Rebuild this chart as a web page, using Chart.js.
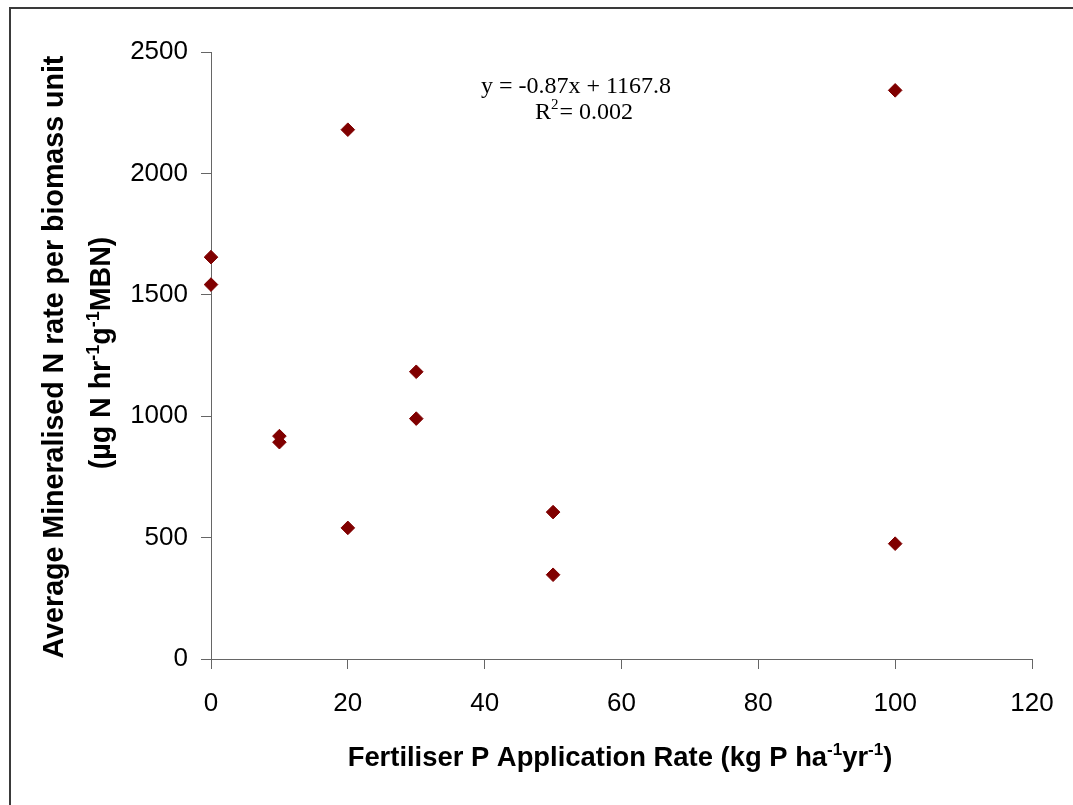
<!DOCTYPE html>
<html>
<head>
<meta charset="utf-8">
<script src="https://cdn.jsdelivr.net/npm/chart.js@4.4.1/dist/chart.umd.min.js"></script>
<style>
  html, body { margin: 0; padding: 0; background: #ffffff; }
  #wrap { width: 1073px; height: 805px; position: relative; }
  canvas { display: block; }
</style>
</head>
<body>
<div id="wrap"><canvas id="c" width="1073" height="805"></canvas></div>
<script>
// ---- data ----
const fertiliserP = [0, 0, 10, 10, 20, 20, 30, 30, 50, 50, 100, 100];
const mineralisedN = [1655, 1542, 918, 893, 2180, 540, 1183, 990, 605, 347, 2342, 475];
const xTicks = [0, 20, 40, 60, 80, 100, 120];
const yTicks = [0, 500, 1000, 1500, 2000, 2500];
const trendEquation = "y = -0.87x + 1167.8";
const rSquaredLabel = ["R", "2", "= 0.002"];
const xTitleParts = [["Fertiliser P Application Rate (kg P ha", false], ["-1", true], ["yr", false], ["-1", true], [")", false]];
const yTitleLine1 = [["Average Mineralised N rate per biomass unit", false]];
const yTitleLine2 = [["(\u00b5g N hr", false], ["-1", true], ["g", false], ["-1", true], ["MBN)", false]];

const points = fertiliserP.map((x, i) => ({ x: x, y: mineralisedN[i] }));

const SANS = "'Liberation Sans', Arial, sans-serif";
const SERIF = "'Liberation Serif', 'Times New Roman', serif";
const AXIS_COLOR = '#666666';

function richWidth(ctx, parts, size, supSize, weight, family) {
  let w = 0;
  for (const [t, sup] of parts) {
    ctx.font = weight + ' ' + (sup ? supSize : size) + 'px ' + family;
    w += ctx.measureText(t).width;
  }
  return w;
}
function drawRich(ctx, parts, cx, baseline, size, supSize, weight, family, raise) {
  const w = richWidth(ctx, parts, size, supSize, weight, family);
  let x = cx - w / 2;
  ctx.textAlign = 'left';
  ctx.textBaseline = 'alphabetic';
  for (const [t, sup] of parts) {
    ctx.font = weight + ' ' + (sup ? supSize : size) + 'px ' + family;
    ctx.fillText(t, x, sup ? baseline - raise : baseline);
    x += ctx.measureText(t).width;
  }
}

const decorations = {
  id: 'decorations',
  beforeDraw(chart) {
    const ctx = chart.ctx;
    ctx.save();
    ctx.fillStyle = '#ffffff';
    ctx.fillRect(0, 0, chart.width, chart.height);
    ctx.restore();
  },
  afterDraw(chart) {
    const ctx = chart.ctx;
    ctx.save();
    // outer frame (left and top edges visible)
    ctx.strokeStyle = '#3a3a3a';
    ctx.lineWidth = 2;
    ctx.beginPath();
    ctx.moveTo(10, chart.height + 2);
    ctx.lineTo(10, 8);
    ctx.lineTo(chart.width + 2, 8);
    ctx.stroke();

    ctx.fillStyle = '#000000';
    // x axis title
    drawRich(ctx, xTitleParts, 620, 766, 27.4, 17, 'bold', SANS, 11);

    // y axis title (rotated)
    ctx.save();
    ctx.translate(63, 357);
    ctx.rotate(-Math.PI / 2);
    drawRich(ctx, yTitleLine1, 0, 0, 28.6, 18, 'bold', SANS, 11);
    ctx.restore();
    ctx.save();
    ctx.translate(110, 353);
    ctx.rotate(-Math.PI / 2);
    drawRich(ctx, yTitleLine2, 0, 0, 28.6, 18, 'bold', SANS, 11);
    ctx.restore();

    // trendline equation
    ctx.fillStyle = '#000000';
    ctx.font = '24px ' + SERIF;
    ctx.textAlign = 'center';
    ctx.textBaseline = 'alphabetic';
    ctx.fillText(trendEquation, 576, 93);
    ctx.textAlign = 'left';
    let x = 535;
    ctx.fillText(rSquaredLabel[0], x, 119);
    x += ctx.measureText(rSquaredLabel[0]).width;
    ctx.font = '15px ' + SERIF;
    ctx.fillText(rSquaredLabel[1], x, 109);
    x += ctx.measureText(rSquaredLabel[1]).width + 1;
    ctx.font = '24px ' + SERIF;
    ctx.fillText(rSquaredLabel[2], x, 119);
    ctx.restore();
  }
};

new Chart(document.getElementById('c'), {
  type: 'scatter',
  data: {
    datasets: [{
      data: points,
      pointStyle: 'rectRot',
      pointRadius: 6.8,
      pointHoverRadius: 6.8,
      backgroundColor: '#800000',
      borderColor: '#800000',
      borderWidth: 1,
      clip: false
    }]
  },
  options: {
    responsive: false,
    animation: false,
    devicePixelRatio: 1,
    layout: { padding: { left: 0, top: 52, right: 41, bottom: 0 } },
    plugins: { legend: { display: false }, tooltip: { enabled: false }, title: { display: false } },
    scales: {
      x: {
        type: 'linear',
        min: 0, max: 120,
        afterBuildTicks(scale) { scale.ticks = xTicks.map(v => ({ value: v })); },
        afterFit(scale) { scale.height = 805 - 659; },
        grid: { display: true, drawOnChartArea: false, drawTicks: true, tickLength: 10, color: AXIS_COLOR, lineWidth: 1 },
        border: { display: true, color: AXIS_COLOR, width: 1 },
        ticks: { color: '#000000', font: { family: SANS, size: 26 }, padding: 19, maxRotation: 0, autoSkip: false,
                 callback: v => String(v) }
      },
      y: {
        type: 'linear',
        min: 0, max: 2500,
        afterBuildTicks(scale) { scale.ticks = yTicks.map(v => ({ value: v })); },
        afterFit(scale) { scale.width = 211; },
        grid: { display: true, drawOnChartArea: false, drawTicks: true, tickLength: 10, color: AXIS_COLOR, lineWidth: 1 },
        border: { display: true, color: AXIS_COLOR, width: 1 },
        ticks: { color: '#000000', font: { family: SANS, size: 26 }, padding: 13, autoSkip: false,
                 callback: v => String(v) }
      }
    }
  },
  plugins: [decorations]
});
</script>
</body>
</html>
